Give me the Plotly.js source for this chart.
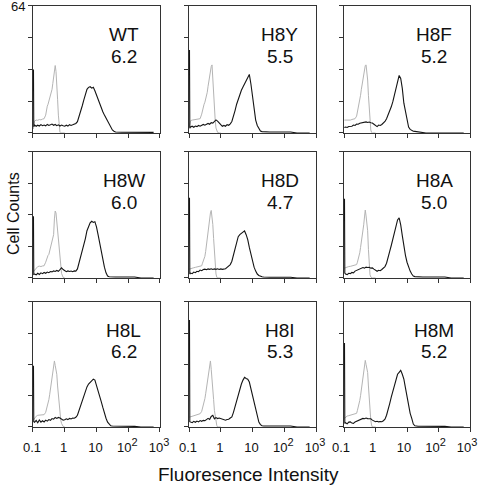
<!DOCTYPE html>
<html>
<head>
<meta charset="utf-8">
<script src="https://cdn.plot.ly/plotly-3.0.1.min.js"></script>
<style>html,body{margin:0;padding:0;background:#fff;}#chart{width:478px;height:490px;}</style>
</head>
<body>
<div id="chart"></div>
<script>
// Panel labels and mean fluorescence values
const panelNames = ['WT','H8Y','H8F','H8W','H8D','H8A','H8L','H8I','H8M'];
const panelValues = ['6.2','5.5','5.2','6.0','4.7','5.0','6.2','5.3','5.2'];

// x tick positions (log10 of intensity) and labels
const tickPositions = [-1, 0, 1, 2, 3];
const tickLabels = ['0.1', '1', '10', '10<sup><span style="font-size:11px">2</span></sup>', '10<sup><span style="font-size:11px">3</span></sup>'];
const countTicks = [0, 16, 32, 48, 64];
const countLabels = ['', '', '', '', '64'];

// Shared channel positions (log10 intensity) for the stained (black) histograms
const blackX = [-0.985,-0.975,-0.95,-0.9,-0.85,-0.8,-0.75,-0.7,-0.65,-0.6,
  -0.55,-0.5,-0.45,-0.4,-0.35,-0.3,-0.25,-0.2,-0.15,-0.1,
  -0.05,0,0.05,0.1,0.15,0.2,0.25,0.3,0.35,0.4,
  0.45,0.5,0.55,0.6,0.65,0.7,0.75,0.8,0.85,0.9,
  0.95,1.0,1.05,1.1,1.15,1.2,1.25,1.3,1.35,1.4,
  1.45,1.5,1.55,1.6,1.8,2.0,2.2,2.4,2.6,2.8];

// Shared channel positions for the control (gray) histograms
const grayX = [-0.99,-0.95,-0.9,-0.85,-0.8,-0.75,-0.7,-0.65,-0.6,-0.575,
  -0.55,-0.525,-0.5,-0.475,-0.45,-0.425,-0.4,-0.375,-0.35,-0.325,
  -0.3,-0.275,-0.25,-0.225,-0.2,-0.175,-0.15,-0.125,-0.1,-0.05,0];

// Stained cell counts
const wtBlack = [32,3.2,4.0,3.4,3.9,3.5,4.2,3.7,4.0,3.6,
  4.3,3.8,4.1,4.5,3.9,4.3,3.7,4.1,3.5,4.0,
  3.6,3.4,3.9,3.5,4.2,3.8,4.1,4.5,4.8,5.7,
  8.0,10.7,13.6,16.6,19.6,22.0,23.0,23.3,22.6,23.0,
  21.3,19.0,17.0,15.0,12.8,10.7,9.0,7.4,5.6,4.0,
  2.6,1.5,0.9,0.5,0.4,0.4,0.4,0.4,0.4,0.3];
const h8yBlack = [41.8,2.4,3.0,3.4,2.9,3.5,3.2,3.8,3.4,4.0,
  4.3,3.9,4.5,4.8,4.4,5.2,5.0,5.6,6.6,6.0,
  4.8,4.2,3.4,3.8,3.4,4.2,3.9,4.6,5.8,8.0,
  11.3,14.5,17.2,19.3,21.5,23.2,25.0,26.3,28.0,29.5,
  24.7,18.0,10.4,6.5,3.8,2.0,1.0,0.7,0.6,0.6,
  0.5,0.6,0.5,0.5,0.5,0.5,0.5,0,0,0];
const h8fBlack = [3.0,2.8,3.0,2.8,3.3,3.5,3.4,4.0,3.8,4.5,
  4.4,4.9,5.0,5.4,5.2,5.6,5.3,5.5,5.2,5.0,
  4.4,3.6,3.2,4.0,3.8,4.3,4.9,5.8,7.2,9.0,
  11.2,13.2,15.8,19.0,23.5,26.5,29.0,27.5,22.5,15.0,
  10.5,5.5,3.0,1.8,1.2,0.9,0.8,0.7,0.7,0.6,
  0.6,0.5,0.4,0,0,0,0,0,0,0];
const h8wBlack = [31.3,1.8,2.0,1.6,2.4,1.8,2.6,2.2,2.8,2.4,
  3.0,2.7,3.3,3.1,3.6,3.3,3.8,3.4,4.2,5.2,
  4.3,3.5,3.2,3.6,3.3,3.5,3.2,3.6,3.5,4.6,
  7.5,11.0,14.0,16.5,20.0,24.0,26.5,28.0,28.8,28.2,
  28.6,26.0,22.0,17.5,12.5,8.5,5.5,2.6,1.0,0.6,
  0.5,0.5,0.6,0.5,0.5,0.5,0.5,0,0,0];
const h8dBlack = [40.7,2.0,2.5,2.2,3.0,2.7,3.4,3.2,4.0,3.7,
  4.3,4.5,4.2,4.6,4.4,4.7,4.3,4.6,4.4,4.7,
  4.3,4.6,4.4,4.5,4.7,5.4,6.0,6.8,8.5,11.5,
  15.5,18.5,21.0,22.0,22.5,23.2,23.9,22.0,19.5,15.5,
  12.0,8.0,5.5,3.5,2.0,1.3,0.8,0.6,0.5,0.4,
  0.5,0.4,0.4,0.4,0.4,0.4,0.4,0,0,0];
const h8aBlack = [40.3,2.5,2.0,1.7,2.4,2.2,2.8,2.6,3.5,3.9,
  4.4,4.8,5.0,5.3,5.0,5.5,5.3,5.4,5.0,5.1,
  4.5,3.8,3.4,3.9,3.7,4.3,5.0,5.8,7.5,10.0,
  13.5,16.5,20.0,23.5,27.0,29.5,30.5,27.0,21.5,16.0,
  11.5,8.0,5.5,3.5,2.0,1.0,0.7,0.6,0.5,0.5,
  0.5,0.5,0.5,0.5,0.5,0.5,0.5,0,0,0];
const h8lBlack = [31.3,2.7,2.4,3.4,2.2,3.6,2.5,3.2,2.6,3.5,
  3.0,3.8,3.4,4.3,4.0,4.9,4.4,4.9,4.6,3.9,
  3.5,3.7,4.2,3.8,4.4,4.1,4.6,4.5,5.0,6.0,
  8.5,11.0,13.5,16.0,18.5,20.5,22.0,23.0,23.5,24.5,
  24.0,21.5,19.0,16.0,13.0,10.0,7.0,4.5,2.5,1.3,
  0.6,0.5,0.5,0.5,0.5,0.5,0.3,0,0,0];
const h8iBlack = [54.8,2.7,2.5,2.2,2.9,2.4,3.0,2.6,3.3,2.9,
  3.4,3.2,3.8,4.4,3.9,5.4,6.0,4.2,4.8,4.3,
  4.6,4.3,4.0,3.7,3.5,3.8,4.0,4.6,5.2,7.5,
  10.5,13.5,17.0,19.5,22.0,24.0,25.4,24.8,24.5,23.0,
  19.5,16.0,12.5,8.0,5.0,2.5,1.2,0.6,0.5,0.5,
  0.5,0.5,0.5,0.5,0.5,0.5,0.5,0,0,0];
const h8mBlack = [43,1.8,2.2,1.6,2.5,2.6,2.0,1.8,2.6,3.0,
  3.5,3.8,4.1,4.4,4.2,4.6,4.3,4.4,4.2,3.5,
  3.0,2.7,2.9,2.6,2.8,2.7,3.2,4.0,6.0,8.6,
  12.0,15.3,18.5,22.0,24.5,27.0,28.0,29.0,27.0,24.5,
  20.0,15.0,11.0,7.0,4.4,1.5,0.6,0.4,0.4,0.4,
  0.4,0.4,0.4,0.4,0.4,0.4,0.3,0,0,0];

// Control cell counts
const wtGray = [2,6.0,6.5,6.4,6.8,6.6,7.0,7.2,9.0,12.5,
  13.5,14.5,16.0,17.5,18.5,20.0,22.0,25.0,28.5,32.0,
  34.0,31.0,26.0,17.0,9.0,2.0,0.3,0,0,0,0];
const h8yGray = [3,6.2,6.5,6.6,6.8,7.0,7.0,7.2,9.5,11.5,
  13.0,14.5,15.5,17.0,18.0,20.5,23.5,26.5,29.0,31.5,
  33.5,34.3,26.0,19.0,11.5,6.5,2.5,0.8,0.3,0,0];
const h8fGray = [6.5,6.5,6.3,6.6,6.5,6.8,6.9,7.2,8.5,10.5,
  12.5,14.0,15.5,19.0,22.0,24.5,27.5,31.0,33.4,34.0,
  34.3,31.0,26.7,19.0,11.5,4.5,1.5,0.3,0,0,0];
const h8wGray = [3.2,4.0,5.2,5.8,6.0,5.8,6.1,6.2,8.0,9.5,
  10.5,11.5,12.0,13.5,15.0,16.5,18.0,19.5,22.0,30.0,
  34.0,33.0,28.0,24.0,22.0,16.0,10.8,5.0,2.3,0.3,0];
const h8dGray = [4.5,4.8,5.0,5.2,5.4,5.6,5.8,6.0,6.2,7.5,
  8.5,10.0,11.0,13.5,17.0,20.5,23.0,26.5,30.0,33.0,
  34.3,31.0,27.2,20.0,12.1,6.0,2.0,0.5,0,0,0];
const h8aGray = [5.0,5.3,5.6,5.8,5.9,6.1,6.4,6.6,6.8,8.0,
  9.5,11.0,12.8,15.5,18.0,20.5,22.7,27.0,31.0,34.5,
  31.5,28.5,24.0,14.5,7.0,1.7,0.5,0,0,0,0];
const h8lGray = [3.5,4.5,5.5,6.0,6.0,6.0,6.1,6.3,7.5,9.0,
  10.5,12.0,14.0,16.5,19.0,21.5,24.0,27.5,31.0,33.8,
  31.5,29.0,27.0,21.0,15.5,11.0,6.5,3.5,1.8,0.3,0];
const h8iGray = [5.0,5.2,5.5,5.8,6.0,6.2,6.5,6.8,8.0,9.5,
  10.5,12.0,14.5,17.0,20.0,23.0,26.0,29.5,33.0,33.8,
  29.5,25.4,20.0,14.0,8.5,5.0,2.0,0.8,0,0,0];
const h8mGray = [4.4,5.0,5.6,5.8,6.0,6.2,6.4,6.7,7.0,8.5,
  10.0,11.5,13.6,16.0,19.0,22.0,25.4,28.5,31.5,34.1,
  32.0,30.0,27.9,21.0,13.6,8.0,3.5,1.0,0,0,0];

const blackSeries = [wtBlack,h8yBlack,h8fBlack,h8wBlack,h8dBlack,h8aBlack,h8lBlack,h8iBlack,h8mBlack];
const graySeries = [wtGray,h8yGray,h8fGray,h8wGray,h8dGray,h8aGray,h8lGray,h8iGray,h8mGray];

// Layout geometry
const colDomains = [[0.069,0.3347],[0.3954,0.6611],[0.7197,0.9833]];
const rowDomains = [[0.7286,0.9878],[0.4327,0.6898],[0.1286,0.3837]];
const labelShift = [-1, -1, -3];
const FONT = 'Liberation Sans, Arial, Helvetica, sans-serif';

const data = [];
const layout = {
  width: 478, height: 490,
  margin: {l:0, r:0, t:0, b:0},
  paper_bgcolor: '#fff', plot_bgcolor: '#fff',
  showlegend: false,
  font: {family: FONT, color: '#111'},
  annotations: []
};

for (let i = 0; i < 9; i++) {
  const r = Math.floor(i / 3), c = i % 3, n = i + 1;
  const xa = 'x' + n, ya = 'y' + n;
  data.push({x: grayX, y: graySeries[i], type: 'scatter', mode: 'lines',
    line: {color: '#b4b4b4', width: 1}, xaxis: xa, yaxis: ya, hoverinfo: 'skip'});
  data.push({x: blackX, y: blackSeries[i], type: 'scatter', mode: 'lines',
    line: {color: '#141414', width: 1.1}, xaxis: xa, yaxis: ya, hoverinfo: 'skip'});
  layout['xaxis' + n] = {
    domain: colDomains[c], anchor: ya, range: [-1, 3],
    tickmode: 'array', tickvals: tickPositions, ticktext: tickLabels,
    showticklabels: r === 2, ticks: 'outside', ticklen: 4, tickwidth: 1, tickcolor: '#333',
    ticklabelstandoff: 4, ticklabelshift: labelShift[c], ticklabeloverflow: 'allow',
    showline: true, mirror: true, linecolor: '#333', linewidth: 1,
    showgrid: false, zeroline: false, fixedrange: true,
    tickfont: {family: FONT, size: 13, color: '#111'}
  };
  layout['yaxis' + n] = {
    domain: rowDomains[r], anchor: xa, range: [0, 64],
    tickmode: 'array', tickvals: countTicks, ticktext: countLabels,
    showticklabels: i === 0, ticks: 'outside', ticklen: 4, tickwidth: 1, tickcolor: '#333',
    ticklabeloverflow: 'allow',
    showline: true, mirror: true, linecolor: '#333', linewidth: 1,
    showgrid: false, zeroline: false, fixedrange: true,
    tickfont: {family: FONT, size: 13, color: '#111'}
  };
  layout.annotations.push({xref: xa + ' domain', yref: ya + ' domain', x: 0.715, y: 0.775,
    text: panelNames[i], showarrow: false, xanchor: 'center', yanchor: 'middle',
    font: {family: FONT, size: 19, color: '#111'}});
  layout.annotations.push({xref: xa + ' domain', yref: ya + ' domain', x: 0.715, y: 0.6,
    text: panelValues[i], showarrow: false, xanchor: 'center', yanchor: 'middle',
    font: {family: FONT, size: 19, color: '#111'}});
}

layout.annotations.push({xref: 'paper', yref: 'paper', x: 0.027, y: 0.565, textangle: -90,
  text: 'Cell Counts', showarrow: false, xanchor: 'center', yanchor: 'middle',
  font: {family: FONT, size: 16, color: '#111'}});
layout.annotations.push({xref: 'paper', yref: 'paper', x: 0.519, y: 0.031,
  text: 'Fluoresence Intensity', showarrow: false, xanchor: 'center', yanchor: 'middle',
  font: {family: FONT, size: 19, color: '#111'}});

Plotly.newPlot('chart', data, layout, {staticPlot: true, displayModeBar: false});
</script>
</body>
</html>
